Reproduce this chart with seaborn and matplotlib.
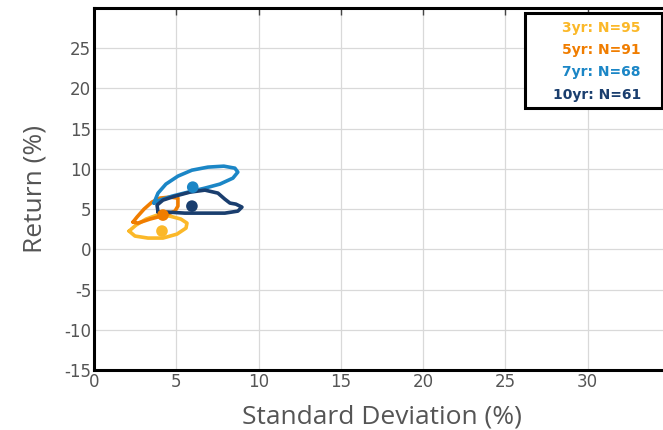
import matplotlib
matplotlib.use("Agg")
import matplotlib.pyplot as plt
from matplotlib.patches import Rectangle
import seaborn as sns
import pandas as pd

# ---- data ----
series = ["3yr", "5yr", "7yr", "10yr"]
counts = [95, 91, 68, 61]
colors = ["#FBB829", "#F07D00", "#1B86C6", "#1A3E6E"]

mean_sd = [4.13, 4.19, 6.0, 5.95]
mean_ret = [2.27, 4.26, 7.73, 5.37]

# contour outlines (std dev, return)
c3_x = [2.13, 2.49, 3.28, 4.19, 5.04, 5.59, 5.65, 5.28, 4.61, 3.83, 3.16, 2.55, 2.13]
c3_y = [2.27, 1.65, 1.40, 1.40, 1.89, 2.64, 3.26, 3.76, 4.13, 4.25, 3.76, 3.01, 2.27]
c5_x = [2.37, 2.61, 3.04, 3.52, 4.01, 4.61, 5.10, 5.10, 4.92, 4.31, 3.40, 2.67, 2.37]
c5_y = [3.39, 4.01, 5.00, 5.87, 6.37, 6.49, 6.37, 5.37, 4.75, 4.25, 3.76, 3.26, 3.39]
c7_x = [3.64, 3.89, 4.37, 5.10, 5.95, 6.92, 7.89, 8.56, 8.74, 8.44, 7.65, 6.74, 5.71, 4.74, 4.01, 3.64]
c7_y = [5.75, 6.99, 8.11, 9.10, 9.84, 10.22, 10.34, 10.09, 9.60, 8.85, 8.11, 7.61, 7.11, 6.61, 6.12, 5.75]
c10_x = [3.89, 3.83, 4.19, 4.92, 5.83, 6.74, 7.53, 7.95, 8.26, 8.62, 8.99, 8.74, 7.95, 6.74, 5.53, 4.49, 3.89]
c10_y = [4.63, 5.50, 6.12, 6.61, 7.11, 7.36, 6.99, 6.24, 5.75, 5.62, 5.25, 4.75, 4.50, 4.50, 4.50, 4.63, 4.63]

x_ticks = [0, 5, 10, 15, 20, 25, 30]
y_ticks = [-15, -10, -5, 0, 5, 10, 15, 20, 25]

# ---- build frames ----
contours = [(c3_x, c3_y), (c5_x, c5_y), (c7_x, c7_y), (c10_x, c10_y)]
rows = []
for name, (cx, cy) in zip(series, contours):
    for i, (a, b) in enumerate(zip(cx, cy)):
        rows.append({"series": name, "order": i, "sd": a, "ret": b})
contour_df = pd.DataFrame(rows)
mean_df = pd.DataFrame({"series": series, "sd": mean_sd, "ret": mean_ret})
palette = dict(zip(series, colors))

sns.set_style("white")
plt.rcParams["font.family"] = ["DejaVu Sans"]
plt.rcParams["axes.unicode_minus"] = False

fig = plt.figure(figsize=(6.63, 4.30), dpi=100)
ax = fig.add_axes([94 / 663, 1 - 370 / 430, (670 - 94) / 663, (370 - 8) / 430])

sns.lineplot(data=contour_df, x="sd", y="ret", hue="series", units="series",
             estimator=None, sort=False, palette=palette, linewidth=2.6,
             legend=False, ax=ax, zorder=3)
sns.scatterplot(data=mean_df, x="sd", y="ret", hue="series", palette=palette,
                s=70, edgecolor="none", legend=False, ax=ax, zorder=4)

ax.set_xlim(0, 35)
ax.set_ylim(-15, 30)
ax.set_xticks(x_ticks)
ax.set_yticks(y_ticks)
ax.grid(True, color="#d9d9d9", linewidth=0.9)
ax.set_axisbelow(True)
ax.tick_params(axis="both", direction="in", length=5, width=1, color="#444444",
               labelsize=12, labelcolor="#555555", top=True, right=True, pad=2)
for s in ["left", "bottom", "top", "right"]:
    ax.spines[s].set_visible(True)
    ax.spines[s].set_color("black")
    ax.spines[s].set_linewidth(2.2)

ax.set_xlabel("Standard Deviation (%)", fontsize=19, color="#555555",
              family="Open Sans", labelpad=10)
ax.set_ylabel("Return (%)", fontsize=19, color="#555555",
              family="Open Sans", labelpad=12)

# legend box (text-only, right aligned)
rect = Rectangle((525 / 663, 1 - 108 / 430), (662 - 525) / 663, (108 - 13) / 430,
                 transform=fig.transFigure, facecolor="white", edgecolor="black",
                 linewidth=2.2, zorder=10)
fig.patches.append(rect)
row_centers = [28, 50, 72, 95]
for name, n, c, yc in zip(series, counts, colors, row_centers):
    fig.text(641 / 663, 1 - yc / 430, f"{name}: N={n}", ha="right", va="center",
             color=c, fontsize=10, fontweight="bold", zorder=11)

fig.savefig("out.png", dpi=100)
